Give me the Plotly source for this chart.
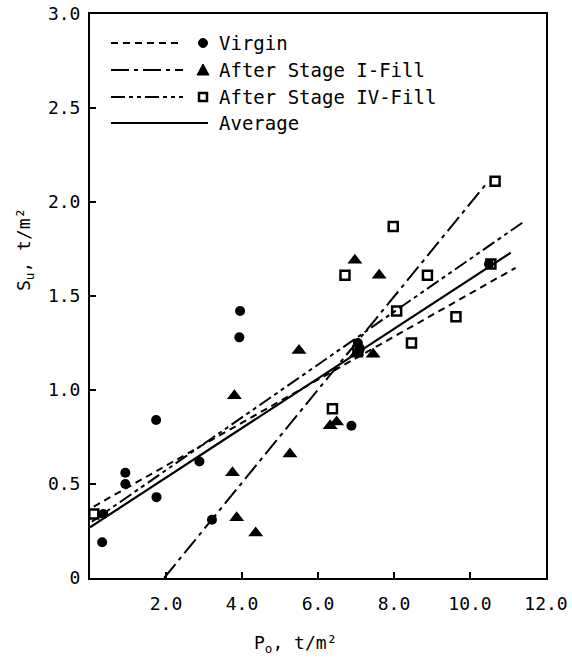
import plotly.graph_objects as go

# ---- data ----
virgin_x = [0.32, 0.35, 0.93, 0.93, 1.74, 1.75, 2.88, 3.21, 3.95, 3.93, 6.88, 7.05, 7.10, 10.50]
virgin_y = [0.19, 0.34, 0.56, 0.50, 0.84, 0.43, 0.62, 0.31, 1.42, 1.28, 0.81, 1.25, 1.22, 1.67]

stage1_x = [3.80, 3.75, 3.86, 4.36, 5.26, 5.50, 6.32, 6.49, 6.97, 7.00, 7.45, 7.61]
stage1_y = [0.97, 0.56, 0.32, 0.24, 0.66, 1.21, 0.81, 0.83, 1.69, 1.19, 1.19, 1.61]

stage4_x = [0.10, 6.38, 6.71, 7.05, 7.98, 8.07, 8.46, 8.88, 9.63, 10.55, 10.66]
stage4_y = [0.34, 0.90, 1.61, 1.21, 1.87, 1.42, 1.25, 1.61, 1.39, 1.67, 2.11]

# regression lines (end points)
virgin_line_x = [0.10, 11.20]
virgin_line_y = [0.38, 1.65]
stage1_line_x = [1.95, 10.40]
stage1_line_y = [0.00, 2.09]
stage4_line_x = [0.05, 11.45]
stage4_line_y = [0.30, 1.90]
avg_line_x = [0.00, 11.07]
avg_line_y = [0.27, 1.73]

x_ticks = [2, 4, 6, 8, 10, 12]
x_ticktext = ["2.0", "4.0", "6.0", "8.0", "10.0", "12.0"]
y_ticks = [0, 0.5, 1.0, 1.5, 2.0, 2.5, 3.0]
y_ticktext = ["0", "0.5", "1.0", "1.5", "2.0", "2.5", "3.0"]

legend_names = ["Virgin", "After Stage I-Fill", "After Stage IV-Fill", "Average"]

FONT = "DejaVu Sans Mono"
FS = 18
BLACK = "black"
DASH_V = "7px,5px"
DASH_1 = "18px,5px,4px,5px"
DASH_4 = "14px,4px,4px,4px,4px,4px"

W, H = 572, 659
L, R, T, B = 90, 546, 14, 578

fig = go.Figure()

fig.add_trace(go.Scatter(x=virgin_line_x, y=virgin_line_y, mode="lines",
                         line=dict(color=BLACK, width=2, dash=DASH_V), showlegend=False))
fig.add_trace(go.Scatter(x=stage1_line_x, y=stage1_line_y, mode="lines",
                         line=dict(color=BLACK, width=2, dash=DASH_1), showlegend=False))
fig.add_trace(go.Scatter(x=stage4_line_x, y=stage4_line_y, mode="lines",
                         line=dict(color=BLACK, width=2, dash=DASH_4), showlegend=False))
fig.add_trace(go.Scatter(x=avg_line_x, y=avg_line_y, mode="lines",
                         line=dict(color=BLACK, width=2.2), showlegend=False))

fig.add_trace(go.Scatter(x=virgin_x, y=virgin_y, mode="markers",
                         marker=dict(symbol="circle", size=10, color=BLACK), showlegend=False))
fig.add_trace(go.Scatter(x=stage1_x, y=stage1_y, mode="markers",
                         marker=dict(symbol="triangle-up", size=13, color=BLACK), showlegend=False))
fig.add_trace(go.Scatter(x=stage4_x, y=stage4_y, mode="markers",
                         marker=dict(symbol="square-open", size=9, color=BLACK,
                                     line=dict(width=2.5, color=BLACK)), showlegend=False))

# ---- manual legend (pixel positions converted to paper coords) ----
def px(x):
    return (x - L) / (R - L)
def py(y):
    return (B - y) / (B - T)

rows = [43, 70, 97, 123]
dashes = [DASH_V, DASH_1, DASH_4, "solid"]
kinds = ["circle", "triangle", "square", None]
MX = 203
for i, (ry, d, k, name) in enumerate(zip(rows, dashes, kinds, legend_names)):
    x1 = 183 if i < 3 else 208
    fig.add_shape(type="line", xref="paper", yref="paper",
                  x0=px(111), x1=px(x1), y0=py(ry), y1=py(ry),
                  line=dict(color=BLACK, width=2, dash=d))
    if k == "circle":
        fig.add_shape(type="circle", xref="paper", yref="paper",
                      x0=px(MX - 4.5), x1=px(MX + 4.5), y0=py(ry + 4.5), y1=py(ry - 4.5),
                      fillcolor=BLACK, line=dict(color=BLACK, width=1))
    elif k == "triangle":
        fig.add_shape(type="path", xref="paper", yref="paper",
                      path=f"M {px(MX - 6)} {py(ry + 5)} L {px(MX + 6)} {py(ry + 5)} L {px(MX)} {py(ry - 6)} Z",
                      fillcolor=BLACK, line=dict(color=BLACK, width=1))
    elif k == "square":
        fig.add_shape(type="rect", xref="paper", yref="paper",
                      x0=px(MX - 4), x1=px(MX + 4), y0=py(ry + 4), y1=py(ry - 4),
                      fillcolor="white", line=dict(color=BLACK, width=2.5))
    fig.add_annotation(xref="paper", yref="paper", x=px(217), y=py(ry),
                       text=name, showarrow=False, xanchor="left", yanchor="middle",
                       font=dict(family=FONT, size=FS + 1, color=BLACK))

# axis titles
fig.add_annotation(xref="paper", yref="paper", x=px(295), y=py(644),
                   text="P<sub>o</sub>, t/m²", showarrow=False, xanchor="center", yanchor="middle",
                   font=dict(family=FONT, size=FS, color=BLACK))
fig.add_annotation(xref="paper", yref="paper", x=px(25), y=py(250),
                   text="S<sub>u</sub>, t/m²", showarrow=False, textangle=-90,
                   xanchor="center", yanchor="middle",
                   font=dict(family=FONT, size=FS, color=BLACK))

fig.update_xaxes(range=[0, 12], tickvals=x_ticks, ticktext=x_ticktext,
                 ticks="inside", ticklen=6, tickwidth=2, tickcolor=BLACK,
                 showline=True, linewidth=2, linecolor=BLACK, mirror=True,
                 showgrid=False, zeroline=False, ticklabelstandoff=8, automargin=False,
                 tickfont=dict(family=FONT, size=FS, color=BLACK))
fig.update_yaxes(range=[0, 3], tickvals=y_ticks, ticktext=y_ticktext,
                 ticks="inside", ticklen=6, tickwidth=2, tickcolor=BLACK,
                 showline=True, linewidth=2, linecolor=BLACK, mirror=True,
                 showgrid=False, zeroline=False, ticklabelstandoff=4, automargin=False,
                 tickfont=dict(family=FONT, size=FS, color=BLACK))

fig.update_layout(width=W, height=H,
                  margin=dict(l=L, r=W - R, t=T, b=H - B),
                  plot_bgcolor="white", paper_bgcolor="white",
                  showlegend=False, hovermode=False)

fig.write_html("out.html", config={"displayModeBar": False, "staticPlot": True},
               post_script="document.body.style.margin='0';document.body.style.overflow='hidden';")
